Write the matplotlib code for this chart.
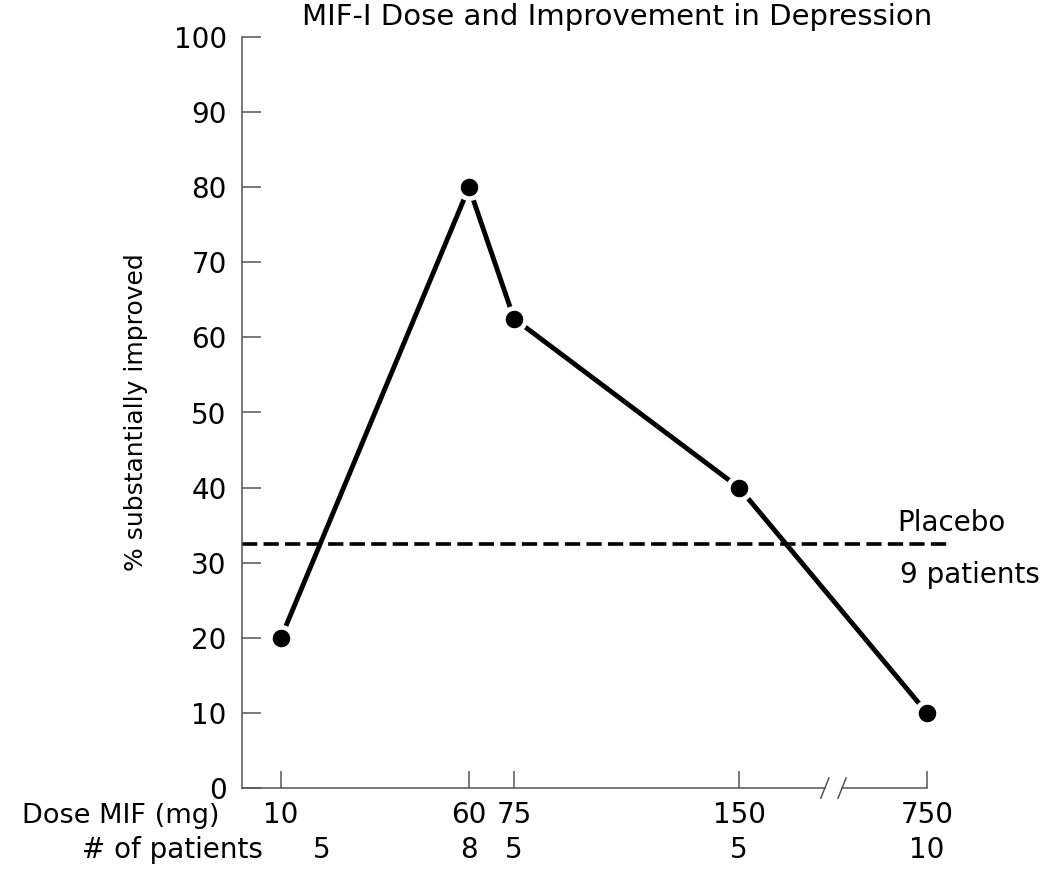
import numpy as np
import matplotlib
matplotlib.use("Agg")
import matplotlib.pyplot as plt

plt.rcParams['font.family'] = ['DejaVu Sans']
plt.rcParams['lines.scale_dashes'] = False

# ---- data ----
doses = [10, 60, 75, 150, 750]
dose_labels = ["10", "60", "75", "150", "750"]
pct_improved = [20, 80, 62.5, 40, 10]
n_patients = [5, 8, 5, 5, 10]
placebo_pct = 32.5
placebo_label = "Placebo"
placebo_n_label = "9 patients"
title = "MIF-I Dose and Improvement in Depression"
ylabel = "% substantially improved"
yticks = list(range(0, 101, 10))

# ---- layout (broken, non-linear dose axis) ----
SCALE_DOSE = np.array([0, 10, 60, 150, 750, 1000], dtype=float)
SCALE_POS = np.array([0, 39, 227, 497, 685, 1435], dtype=float)
BREAK_DOSES = (424, 479)
PATIENT_SHIFT_PT = [29, 0, 0, 0, 0]


def fwd(d):
    return np.interp(np.asarray(d, dtype=float), SCALE_DOSE, SCALE_POS)


def inv(p):
    return np.interp(np.asarray(p, dtype=float), SCALE_POS, SCALE_DOSE)


W, H = 1050, 871
fig = plt.figure(figsize=(W / 100, H / 100), dpi=100)
ax = fig.add_axes([242 / W, (H - 788) / H, 808 / W, 751 / H])
ax.set_xscale('function', functions=(fwd, inv))
ax.set_xlim(0, 791)
ax.set_ylim(0, 100)

axis_col = '#555555'
for s in ['top', 'right', 'bottom']:
    ax.spines[s].set_visible(False)
ax.spines['left'].set_color(axis_col)
ax.spines['left'].set_linewidth(1.1)

# bottom axis with break
ax.plot([0, BREAK_DOSES[0]], [0, 0], color=axis_col, lw=1.1, clip_on=False, zorder=2)
ax.plot([BREAK_DOSES[1], 750], [0, 0], color=axis_col, lw=1.1, clip_on=False, zorder=2)
for bd in BREAK_DOSES:
    ax.plot([bd - 13, bd + 13], [-1.35, 1.35], color=axis_col, lw=1.1, clip_on=False, zorder=2)

ax.set_xticks(doses, dose_labels)
ax.xaxis.set_minor_locator(matplotlib.ticker.NullLocator())
ax.set_yticks(yticks)
ax.tick_params(axis='x', direction='in', length=12.5, width=1.1, color=axis_col,
               pad=9, labelsize=20)
ax.tick_params(axis='y', direction='in', length=14, width=1.1, color=axis_col,
               pad=11, labelsize=20)

# data line with white gaps around markers
ax.plot(doses, pct_improved, color='black', lw=3.5, solid_capstyle='butt', zorder=3,
        clip_on=False)
ax.plot(doses, pct_improved, linestyle='none', marker='o', markersize=16,
        markerfacecolor='black', markeredgecolor='white', markeredgewidth=3.4,
        zorder=4, clip_on=False)

# placebo line
ax.axhline(placebo_pct, xmin=0, xmax=0.876, color='black', lw=2.6,
           dashes=(11, 4.5), zorder=2)
ax.annotate(placebo_label, xy=(0.8106, placebo_pct), xycoords=ax.get_yaxis_transform(),
            xytext=(0, 9.4), textcoords='offset points', ha='left', va='baseline',
            fontsize=20, annotation_clip=False)
ax.annotate(placebo_n_label, xy=(0.8144, placebo_pct), xycoords=ax.get_yaxis_transform(),
            xytext=(0, -28), textcoords='offset points', ha='left', va='baseline',
            fontsize=20, annotation_clip=False)

# patients row
for d, n, sh in zip(doses, n_patients, PATIENT_SHIFT_PT):
    ax.annotate(str(n), xy=(d, 0), xycoords=ax.get_xaxis_transform(),
                xytext=(sh, -50.4), textcoords='offset points', ha='center',
                va='baseline', fontsize=20, annotation_clip=False)

fig.text(220 / W, 1 - 823 / H, "Dose MIF (mg)", ha='right', va='baseline', fontsize=19.5)
fig.text(263 / W, 1 - 858 / H, "# of patients", ha='right', va='baseline', fontsize=20)
fig.text(136 / W, 1 - 412 / H, ylabel, rotation=90, ha='center', va='center', fontsize=18)
fig.text(617 / W, 1 - 25 / H, title, ha='center', va='baseline', fontsize=21)

fig.savefig("out.png", dpi=100)
